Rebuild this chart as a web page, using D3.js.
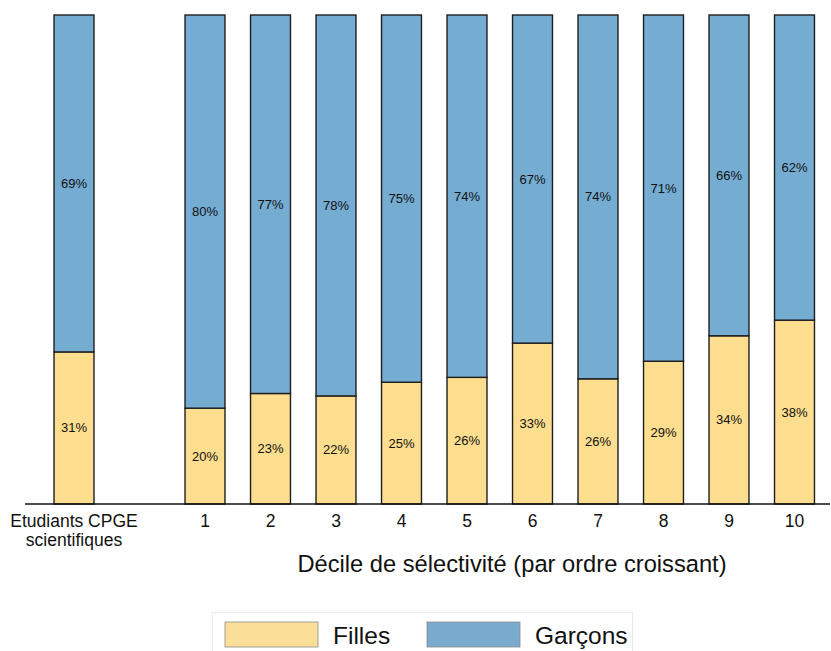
<!DOCTYPE html>
<html><head><meta charset="utf-8">
<script src="https://cdn.jsdelivr.net/npm/d3@7"></script>
<style>body{margin:0;background:#fff}svg{display:block;font-family:"Liberation Sans",Arial,Helvetica,sans-serif}</style>
</head><body><svg id="c" width="831" height="651"></svg>
<script>
const categories = ["Etudiants CPGE\nscientifiques", "", "1","2","3","4","5","6","7","8","9","10"];
const filles  = [31.1, null, 19.6, 22.6, 22.1, 24.9, 25.9, 32.9, 25.6, 29.2, 34.4, 37.6];
const garcons = [68.9, null, 80.4, 77.4, 77.9, 75.1, 74.1, 67.1, 74.4, 70.8, 65.6, 62.4];
const seriesNames = ["Filles", "Garçons"];
const colors = ["#fddd8e", "#75acd2"];
const xTitle = "Décile de sélectivité (par ordre croissant)";

const svg = d3.select("#c");
const x = d3.scaleBand().domain(categories.map((c,i)=>i)).range([41.25, 827.25]).paddingInner(0.39).paddingOuter(0.195);
const y = d3.scaleLinear().domain([0,100]).range([504, 15]);

const data = categories.map((c,i)=>({i, f: filles[i], g: garcons[i]})).filter(d=>d.f!=null);

const g = svg.append("g");
data.forEach(d=>{
  const segs = [{v0:0, v1:d.f, v:d.f, c:colors[0]}, {v0:d.f, v1:d.f+d.g, v:d.g, c:colors[1]}];
  segs.forEach(s=>{
    g.append("rect").attr("x", x(d.i)).attr("width", x.bandwidth())
      .attr("y", y(s.v1)).attr("height", y(s.v0)-y(s.v1))
      .attr("fill", s.c).attr("stroke", "#1e1e1e").attr("stroke-width", 1.4);
    g.append("text").attr("x", x(d.i)+x.bandwidth()/2).attr("y", (y(s.v0)+y(s.v1))/2)
      .attr("text-anchor","middle").attr("dominant-baseline","central")
      .attr("font-size", 13).attr("fill","#111").text(Math.round(s.v)+"%");
  });
});

// axis
const axis = d3.axisBottom(x).tickSize(0).tickPadding(0).tickFormat("");
const ag = svg.append("g").attr("transform","translate(0,504)").call(axis);
ag.select(".domain").remove();
svg.append("line").attr("x1",25).attr("x2",830).attr("y1",504).attr("y2",504).attr("stroke","#111").attr("stroke-width",1.5);
ag.selectAll(".tick").each(function(d){
  const lines = categories[d].split("\n");
  const t = d3.select(this).append("text").attr("fill","#111").attr("font-size",17.5).attr("text-anchor","middle");
  lines.forEach((l,k)=>t.append("tspan").attr("x",0).attr("y",17+k*18.5).attr("dominant-baseline","central").text(l));
});

svg.append("text").attr("x",512).attr("y",564).attr("text-anchor","middle").attr("dominant-baseline","central")
  .attr("font-size",23.7).attr("fill","#111").text(xTitle);

// legend
const lg = svg.append("g");
lg.append("rect").attr("x",212.5).attr("y",612.5).attr("width",420).attr("height",60).attr("fill","#fff").attr("stroke","#e4ebeb").attr("stroke-width",1);
const lx = [225, 427];
seriesNames.forEach((n,k)=>{
  lg.append("rect").attr("x",lx[k]).attr("y",622).attr("width",93).attr("height",25).attr("fill",k?"#7aaacd":"#fbdf98").attr("stroke","#8a8a8a").attr("stroke-width",0.8);
  lg.append("text").attr("x",lx[k]+108).attr("y",635).attr("dominant-baseline","central").attr("font-size",24.5).attr("fill","#111").text(n);
});
</script></body></html>
